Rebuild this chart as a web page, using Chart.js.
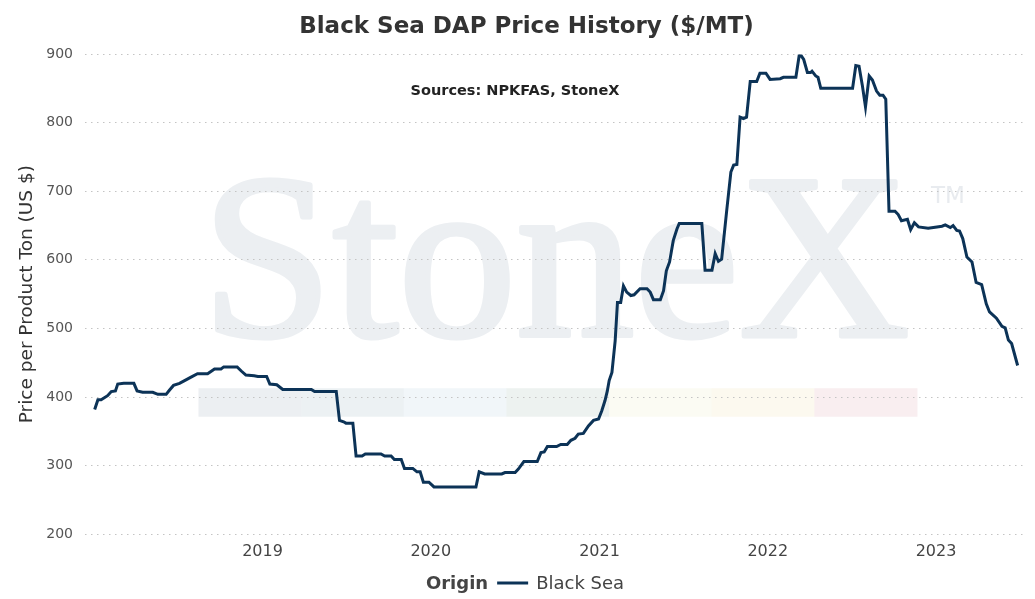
<!DOCTYPE html>
<html>
<head>
<meta charset="utf-8">
<title>Black Sea DAP Price History</title>
<script src="https://cdn.jsdelivr.net/npm/chart.js@4.4.0/dist/chart.umd.min.js"></script>
<style>
  html, body { margin: 0; padding: 0; background: #fff; }
  #wrap { width: 1035px; height: 599px; position: relative; }
</style>
</head>
<body>
<div id="wrap"><canvas id="chart"></canvas></div>
<script>
// Weekly Black Sea DAP price
const dates = [
    '2018-01-02','2018-01-09','2018-01-16','2018-01-30','2018-02-07','2018-02-16','2018-02-21','2018-03-06','2018-03-28','2018-04-04',
    '2018-04-16','2018-05-08','2018-05-19','2018-06-06','2018-06-13','2018-06-22','2018-07-05','2018-07-16','2018-07-30','2018-08-13',
    '2018-09-04','2018-09-19','2018-10-03','2018-10-09','2018-11-07','2018-11-16','2018-11-26','2018-12-14','2018-12-22',
    '2019-01-10','2019-01-17','2019-02-01','2019-02-14','2019-04-17','2019-04-24','2019-06-10','2019-06-17','2019-06-26','2019-07-01',
    '2019-07-16','2019-07-23','2019-08-05','2019-08-12','2019-09-15','2019-09-23','2019-10-07','2019-10-14','2019-10-29','2019-11-05',
    '2019-11-23','2019-12-02','2019-12-09','2019-12-16','2019-12-28',
    '2020-01-08','2020-04-08','2020-04-15','2020-04-27','2020-06-03','2020-06-10','2020-07-02','2020-07-09','2020-07-21','2020-08-19',
    '2020-08-27','2020-09-03','2020-09-10','2020-09-30','2020-10-09','2020-10-23','2020-10-31','2020-11-09','2020-11-16','2020-11-27',
    '2020-12-08','2020-12-19','2020-12-30',
    '2021-01-06','2021-01-13','2021-01-18','2021-01-22','2021-01-28','2021-02-04','2021-02-09','2021-02-16','2021-02-22','2021-03-01',
    '2021-03-10','2021-03-17','2021-03-30','2021-04-14','2021-04-21','2021-04-28','2021-05-13','2021-05-20','2021-05-26','2021-06-02',
    '2021-06-10','2021-06-18','2021-06-23','2021-08-11','2021-08-18','2021-09-02','2021-09-09','2021-09-16','2021-09-23','2021-10-04',
    '2021-10-13','2021-10-19','2021-10-26','2021-11-02','2021-11-09','2021-11-16','2021-11-24','2021-12-08','2021-12-15','2021-12-28',
    '2022-01-06','2022-01-28','2022-02-04','2022-02-11','2022-03-03','2022-03-10','2022-03-15','2022-03-20','2022-03-28','2022-04-04',
    '2022-04-07','2022-04-15','2022-04-20','2022-04-26','2022-07-04','2022-07-11','2022-07-18','2022-07-25','2022-08-01','2022-08-09',
    '2022-08-16','2022-08-25','2022-09-01','2022-09-08','2022-09-14','2022-09-21','2022-10-04','2022-10-11','2022-10-18','2022-10-31',
    '2022-11-07','2022-11-15','2022-11-24','2022-12-15',
    '2023-01-03','2023-01-14','2023-01-21','2023-02-01','2023-02-07','2023-02-15','2023-02-21','2023-02-28','2023-03-09','2023-03-20',
    '2023-03-29','2023-04-10','2023-04-20','2023-04-27','2023-05-12','2023-05-24','2023-05-31','2023-06-07','2023-06-14','2023-06-27'
];
const blackSea = [
    382, 396, 396, 402, 408, 409, 419, 420, 420, 409,
    407, 407, 404, 404, 410, 417, 420, 424, 429, 434,
    434, 441, 441, 444, 444, 438, 432, 431, 430,
    430, 419, 418, 411, 411, 408, 408, 366, 364, 362,
    362, 314, 314, 317, 317, 314, 314, 309, 309, 296,
    296, 291, 291, 276, 276,
    269, 269, 291, 288, 288, 290, 290, 295, 306, 306,
    319, 320, 328, 328, 331, 331, 337, 340, 346, 347,
    358, 366, 368,
    380, 395, 409, 424, 436, 482, 538, 538, 562, 553,
    548, 549, 558, 558, 553, 542, 542, 555, 584, 597,
    628, 645, 653, 653, 585, 585, 609, 598, 601, 672,
    728, 738, 739, 808, 806, 808, 860, 860, 872, 872,
    863, 864, 866, 866, 866, 897, 897, 892, 873, 873,
    875, 868, 866, 850, 850, 883, 882, 855, 823, 868,
    862, 846, 840, 840, 834, 671, 671, 666, 657, 659,
    644, 654, 648, 646,
    648, 649, 651, 647, 650, 643, 642, 631, 604, 597,
    567, 564, 536, 524, 515, 503, 501, 483, 478, 446
];
const yearTicks = [2019, 2020, 2021, 2022, 2023];
const priceTicks = [200, 300, 400, 500, 600, 700, 800, 900];

const NAVY = '#0c3357';
Chart.defaults.font.family = '"DejaVu Sans", Verdana, sans-serif';

// StoneX watermark behind the plot
const watermark = {
    id: 'watermark',
    beforeDraw(chart) {
        const {ctx, chartArea: a} = chart;
        const w = a.right - a.left, h = a.bottom - a.top;
        ctx.save();
        const strip = ['#eceff2', '#ecf1f3', '#f1f6f9', '#edf2f0', '#fbfbf3', '#fcf9ef', '#f9eef0'];
        const sx = a.left + w * 0.1207, sw = w * 0.1092;
        const sy = a.top + h * 0.6959, sh = h * 0.0593;
        strip.forEach((c, i) => {
            ctx.fillStyle = c;
            ctx.fillRect(sx + i * sw, sy, sw + 0.5, sh);
        });
        ctx.fillStyle = '#eceff2';
        ctx.strokeStyle = '#eceff2';
        ctx.lineWidth = 5;
        ctx.lineJoin = 'round';
        ctx.font = '236px "Liberation Serif", "DejaVu Serif", serif';
        ctx.textAlign = 'center';
        ctx.textBaseline = 'alphabetic';
        const wx = a.left + w * 0.5005, wy = a.top + h * 0.587;
        ctx.fillText('StoneX', wx, wy);
        ctx.strokeText('StoneX', wx, wy);
        ctx.fillStyle = '#e8ebef';
        ctx.font = '23px "DejaVu Sans", sans-serif';
        ctx.textAlign = 'left';
        ctx.fillText('TM', a.left + w * 0.9, a.top + h * 0.311);
        ctx.restore();
    }
};

// subtitle inside the plot and the bottom legend
const extras = {
    id: 'extras',
    afterDraw(chart) {
        const {ctx} = chart;
        ctx.save();
        ctx.fillStyle = '#222';
        ctx.font = 'bold 14.5px "DejaVu Sans", sans-serif';
        ctx.textAlign = 'center';
        ctx.textBaseline = 'alphabetic';
        ctx.fillText('Sources: NPKFAS, StoneX', 515, 94.5);

        const y = 584;
        ctx.textAlign = 'left';
        ctx.textBaseline = 'middle';
        ctx.font = 'bold 18px "DejaVu Sans", sans-serif';
        const w1 = ctx.measureText('Origin').width;
        ctx.font = '18px "DejaVu Sans", sans-serif';
        const w2 = ctx.measureText('Black Sea').width;
        const total = w1 + 9 + 31 + 8 + w2;
        let x = 525 - total / 2;
        ctx.fillStyle = '#444';
        ctx.font = 'bold 18px "DejaVu Sans", sans-serif';
        ctx.fillText('Origin', x, y);
        x += w1 + 9;
        ctx.strokeStyle = NAVY;
        ctx.lineWidth = 3;
        ctx.beginPath();
        ctx.moveTo(x, y - 1);
        ctx.lineTo(x + 31, y - 1);
        ctx.stroke();
        x += 31 + 8;
        ctx.font = '18px "DejaVu Sans", sans-serif';
        ctx.fillText('Black Sea', x, y);
        ctx.restore();
    }
};

new Chart(document.getElementById('chart'), {
    type: 'line',
    data: {
        datasets: [{
            label: 'Black Sea',
            data: dates.map((d, i) => ({x: Date.parse(d), y: blackSea[i]})),
            borderColor: NAVY,
            borderWidth: 3,
            pointRadius: 0,
            tension: 0,
            fill: false
        }]
    },
    options: {
        responsive: true,
        maintainAspectRatio: false,
        animation: false,
        layout: {padding: {left: 28, right: 10, top: 0, bottom: 29.5}},
        plugins: {
            legend: {display: false},
            tooltip: {enabled: false},
            title: {
                display: true,
                text: 'Black Sea DAP Price History ($/MT)',
                color: '#333',
                font: {size: 23, weight: 'bold'},
                padding: {top: 13.6, bottom: 12.8}
            }
        },
        scales: {
            x: {
                type: 'linear',
                min: Date.parse('2017-12-12'),
                max: Date.parse('2023-07-13'),
                afterBuildTicks: s => {
                    s.ticks = yearTicks.map(yr => ({value: Date.UTC(yr, 0, 1)}));
                },
                grid: {display: false, drawTicks: false},
                border: {display: false},
                ticks: {
                    autoSkip: false,
                    maxRotation: 0,
                    padding: 8,
                    color: '#444',
                    font: {size: 16},
                    callback: v => String(new Date(v).getUTCFullYear())
                }
            },
            y: {
                min: priceTicks[0],
                max: priceTicks[priceTicks.length - 1],
                afterFit: s => { s.width = 57; },
                afterBuildTicks: s => {
                    s.ticks = priceTicks.map(v => ({value: v}));
                },
                grid: {color: '#c4c4c4', lineWidth: 1, drawTicks: false},
                border: {display: false, dash: [1.5, 4.5]},
                ticks: {
                    padding: 12,
                    color: '#555',
                    font: {size: 14}
                },
                title: {
                    display: true,
                    text: 'Price per Product Ton (US $)',
                    color: '#333',
                    font: {size: 18.5},
                    padding: {top: -11.6, bottom: 0}
                }
            }
        }
    },
    plugins: [watermark, extras]
});
</script>
</body>
</html>
